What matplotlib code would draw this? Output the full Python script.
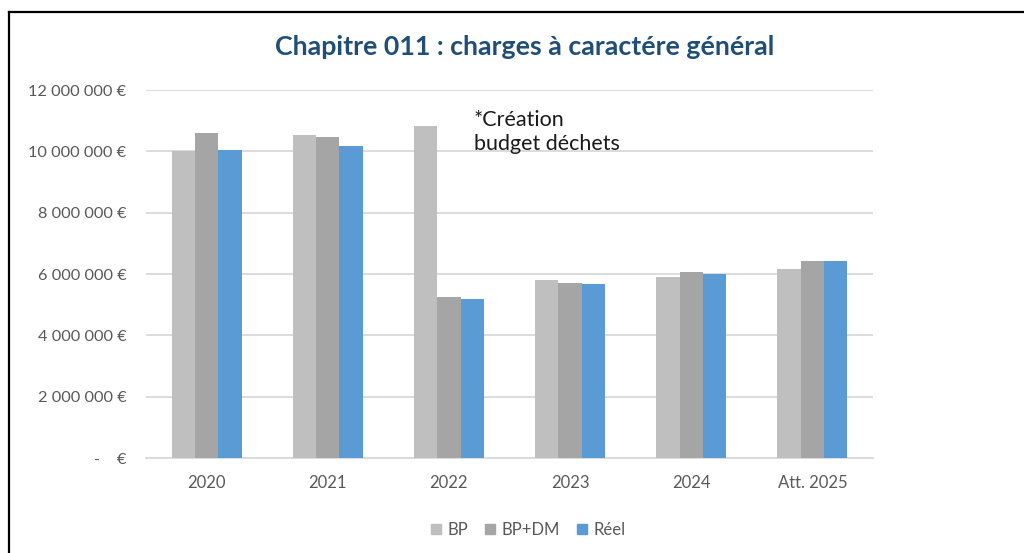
import matplotlib
matplotlib.use("Agg")
import matplotlib.pyplot as plt
from matplotlib.lines import Line2D
from matplotlib.patches import Patch
import numpy as np

categories = ["2020", "2021", "2022", "2023", "2024", "Att. 2025"]
bp = [10000000, 10530000, 10810000, 5810000, 5890000, 6170000]
bp_dm = [10610000, 10460000, 5240000, 5700000, 6080000, 6430000]
reel = [10040000, 10170000, 5180000, 5660000, 5990000, 6430000]
series_names = ["BP", "BP+DM", "Réel"]
yticks = [0, 2000000, 4000000, 6000000, 8000000, 10000000, 12000000]

colors = ["#BFBFBF", "#A5A5A5", "#5B9BD5"]
plt.rcParams['font.family'] = ['Lato', 'DejaVu Sans']

fig = plt.figure(figsize=(10.24, 5.53), dpi=100)
ax = fig.add_axes([146/1024, 1-458/553, (873-146)/1024, (458-90)/553])

x = np.arange(len(categories))
w = 0.1925
for i, (vals, name) in enumerate(zip([bp, bp_dm, reel], series_names)):
    ax.bar(x + (i-1)*w, vals, width=w, color=colors[i], label=name, zorder=3)

ax.set_xlim(-0.5, len(categories)-0.5)
ax.set_ylim(0, 12000000)
ax.set_yticks(yticks)

def fmt(v):
    if v == 0:
        return "-    €"
    s = f"{int(v):,}".replace(",", " ")
    return s + " €"
ax.set_yticklabels([fmt(v) for v in yticks], fontsize=11.8, color="#595959")
ax.set_xticks(x)
ax.set_xticklabels(categories, fontsize=12, color="#595959")
ax.tick_params(axis='both', length=0)
ax.tick_params(axis='y', pad=14)
ax.tick_params(axis='x', pad=12)
ax.grid(axis='y', color="#D9D9D9", linewidth=1.3, zorder=0)
for s in ["top", "right", "left"]:
    ax.spines[s].set_visible(False)
ax.spines["bottom"].set_color("#D9D9D9")
ax.spines["bottom"].set_linewidth(1.3)

fig.text(525/1024, 1-47/553, "Chapitre 011 : charges à caractére général",
         ha="center", va="center", fontsize=19.3, fontweight="bold", color="#1F4E79")

fig.text(474/1024, 1-132/553, "*Création\nbudget déchets", ha="left", va="center",
         fontsize=15.5, color="#1a1a1a", linespacing=1.2)

handles = [Patch(color=c) for c in colors]
fig.legend(handles, series_names, loc="center", bbox_to_anchor=(528/1024, 1-530/553),
           ncol=3, frameon=False, fontsize=12, handlelength=0.6, handleheight=0.6,
           handletextpad=0.4, columnspacing=1.0, labelcolor="#595959")

fig.add_artist(Line2D([9/1024, 9/1024], [0, 1-11.5/553], transform=fig.transFigure,
                      color="black", linewidth=1.6))
fig.add_artist(Line2D([9/1024, 1], [1-11.5/553, 1-11.5/553], transform=fig.transFigure,
                      color="black", linewidth=1.6))

fig.savefig("out.png", dpi=100)
